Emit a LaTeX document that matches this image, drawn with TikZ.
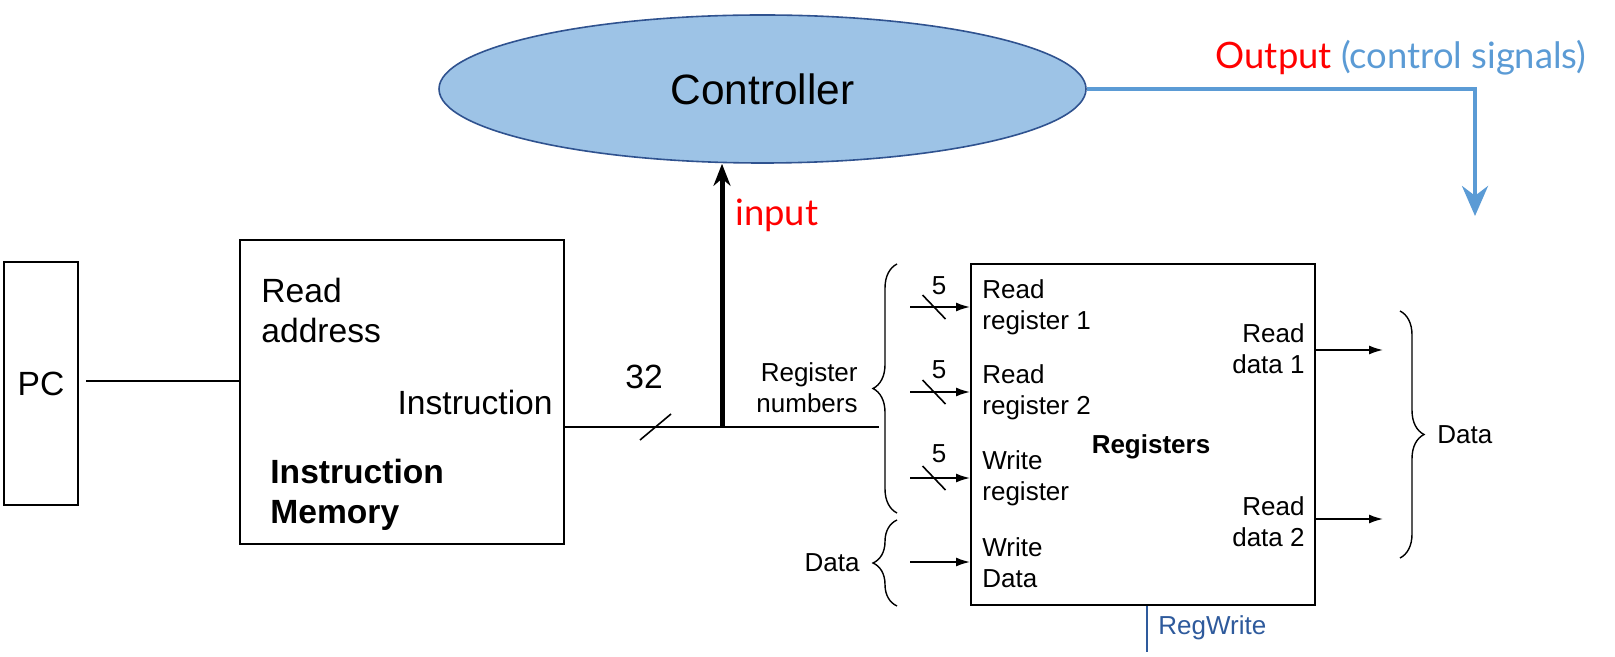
\documentclass[tikz,border=0pt]{standalone}
\usepackage{fontspec}
\setmainfont{Liberation Sans}
\newfontfamily\gillfont{Lato}
\usetikzlibrary{arrows.meta,shapes.geometric,decorations.pathreplacing}
\definecolor{ctrlfill}{HTML}{9DC3E6}
\definecolor{ctrldraw}{HTML}{2F528F}
\definecolor{sigblue}{HTML}{5B9BD5}
\definecolor{rwblue}{HTML}{2E5A9C}
\newcommand{\bigtxt}{\fontsize{16.8}{20}\selectfont}
\newcommand{\regtxt}{\fontsize{13}{15.5}\selectfont}
\newcommand{\ctrltxt}{\fontsize{21.2}{25}\selectfont}
\newcommand{\gilltxt}{\gillfont\fontsize{18.2}{22}\selectfont}

\begin{document}
\begin{tikzpicture}[x=0.5pt,y=-0.5pt,>=Stealth,
  box/.style={draw,line width=1pt,inner sep=0pt},
  txt/.style={inner sep=0pt,font=\bigtxt},
  rtxt/.style={inner sep=0pt,font=\regtxt},
  wire/.style={line width=0.8pt},
  sig/.style={line width=0.8pt,-{Latex[length=7pt,width=4.5pt]}},
  brc/.style={decorate,decoration={brace,amplitude=12pt},line width=0.7pt}]
  \useasboundingbox (0,0) rectangle (1615,657);

  % controller
  \node[ellipse,draw=ctrldraw,line width=0.8pt,fill=ctrlfill,minimum width=323.5pt,
        minimum height=74pt,inner sep=0pt,font=\ctrltxt] (ctrl) at (762.5,89) {Controller};

  % PC and instruction memory
  \node[box,minimum width=37pt,minimum height=121.5pt,font=\bigtxt] (pc) at (41,383.5) {PC};
  \node[box,minimum width=162pt,minimum height=152pt] (imem) at (402,392) {};
  \node[txt,anchor=west,align=left] (raddr) at (261,310) {Read\\address};
  \node[txt,anchor=east] (instr) at (553,402) {Instruction};
  \node[txt,anchor=west,align=left,font=\bigtxt\bfseries] (imname) at (270,495) {Instruction\\Memory};
  \coordinate (pcout) at (86,381);
  \draw[wire] (pcout) -- (pcout -| imem.west);

  % instruction bus
  \coordinate (tap) at (722,427);
  \coordinate (busend) at (879,427);
  \draw[wire] (tap -| imem.east) -- (busend);
  \draw[wire] (655.5,427) ++(-15.5,13) -- ++(31,-26);
  \node[txt] (bw) at (644,377) {32};

  % controller input and output
  \draw[line width=2.5pt,-{Stealth[length=11pt,width=8.5pt]}] (tap) -- (tap |- ctrl.south);
  \node[inner sep=0pt,font=\gilltxt,text=red,anchor=west] (inlab) at (735,215) {input};
  \coordinate (outend) at (1475,216);
  \draw[sigblue,line width=2pt,-{Stealth[length=15pt,width=13pt]}] (ctrl.east) -| (outend);
  \node[inner sep=0pt,font=\gilltxt,anchor=east] (outlab) at (1587,58)
       {\textcolor{red}{Output} \textcolor{sigblue}{(control signals)}};

  % register file
  \node[box,minimum width=172pt,minimum height=170.5pt] (regs) at (1143,434.5) {};
  \node[rtxt,font=\regtxt\bfseries] (rname) at (1151,447) {Registers};
  \node[rtxt,anchor=east,align=right] (rnum) at (858,388) {Register\\numbers};
  \draw[brc] (897,513) -- (897,264);

  \coordinate (rr1) at (910,307);
  \coordinate (rr2) at (910,392);
  \coordinate (wr) at (910,478);
  \coordinate (wd) at (910,562);
  \draw[sig] (rr1) -- (rr1 -| regs.west);
  \draw[sig] (rr2) -- (rr2 -| regs.west);
  \draw[sig] (wr) -- (wr -| regs.west);
  \draw[sig] (wd) -- (wd -| regs.west);
  \draw[wire] (934,307) ++(-11.5,-12) -- ++(23,24);
  \draw[wire] (934,392) ++(-11.5,-12) -- ++(23,24);
  \draw[wire] (934,478) ++(-11.5,-12) -- ++(23,24);
  \node[rtxt] (w1) at (939,286) {5};
  \node[rtxt] (w2) at (939,370) {5};
  \node[rtxt] (w3) at (939,454) {5};

  \node[rtxt,anchor=west,align=left] (lrr1) at (982,307) {Read\\register 1};
  \node[rtxt,anchor=west,align=left] (lrr2) at (982,392) {Read\\register 2};
  \node[rtxt,anchor=west,align=left] (lwr) at (982,478) {Write\\register};
  \node[rtxt,anchor=west,align=left] (lwd) at (982,563) {Write\\Data};

  % write data
  \draw[brc] (897,606) -- (897,520);
  \node[rtxt,anchor=east] (din) at (860,563) {Data};

  % read data
  \coordinate (rd1) at (1383,350);
  \coordinate (rd2) at (1383,519);
  \draw[sig] (rd1 -| regs.east) -- (rd1);
  \draw[sig] (rd2 -| regs.east) -- (rd2);
  \node[rtxt,anchor=east,align=right] (lrd1) at (1305,349) {Read\\data 1};
  \node[rtxt,anchor=east,align=right] (lrd2) at (1305,522) {Read\\data 2};
  \draw[brc] (1400,311) -- (1400,558);
  \node[rtxt,anchor=west] (dout) at (1437,435) {Data};

  % RegWrite
  \coordinate (rw) at (1147,652);
  \draw[rwblue,line width=0.8pt] (rw |- regs.south) -- (rw);
  \node[rtxt,text=rwblue,anchor=west] (rwlab) at (1158,628) {RegWrite};
\end{tikzpicture}
\end{document}
